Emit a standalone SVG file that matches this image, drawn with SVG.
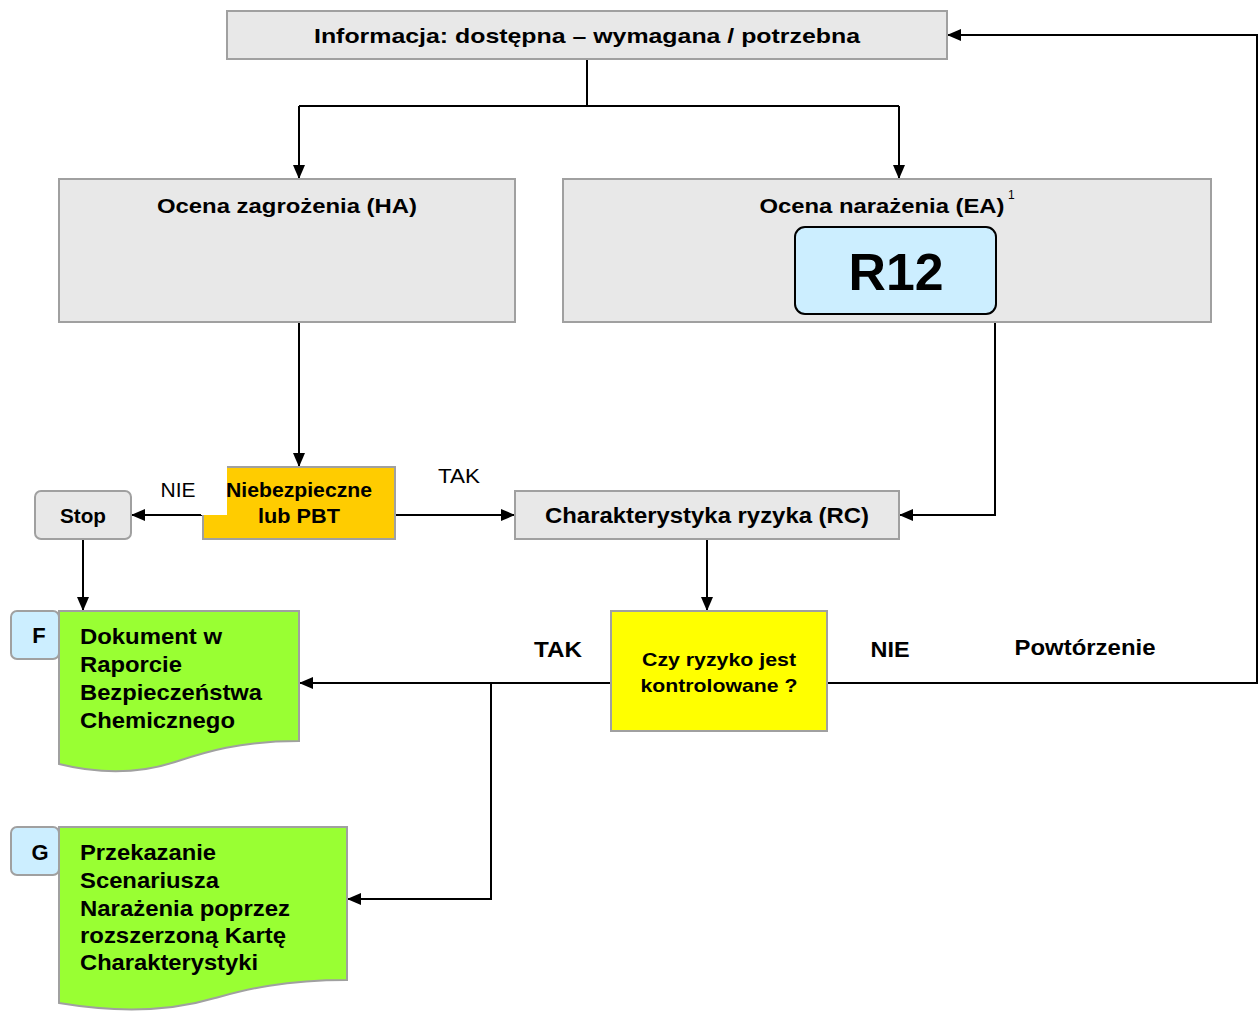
<svg xmlns="http://www.w3.org/2000/svg" width="1259" height="1011" viewBox="0 0 1259 1011">
<defs>
<marker id="ah" markerWidth="14" markerHeight="12" refX="14" refY="6" orient="auto" markerUnits="userSpaceOnUse" viewBox="0 0 14 12">
<path d="M0,0 L14,6 L0,12 Z" fill="#000"/>
</marker>
<style>
.t{font-family:"Liberation Sans",Arial,sans-serif;font-weight:bold;fill:#000}
.n{font-family:"Liberation Sans",Arial,sans-serif;fill:#000}
.grey{fill:#e8e8e8;stroke:#a0a0a0;stroke-width:2}
.c{fill:none;stroke:#000;stroke-width:2}
.lab{fill:#cceeff;stroke:#a0a0a0;stroke-width:2}
.doc{fill:#99ff33;stroke:#a0a0a0;stroke-width:2}
</style>
</defs>
<rect width="1259" height="1011" fill="#fff"/>

<g id="connectors">
<polyline class="c" points="587,59 587,106"/>
<polyline class="c" points="299,106 899,106"/>
<polyline class="c" points="299,106 299,179" marker-end="url(#ah)"/>
<polyline class="c" points="899,106 899,179" marker-end="url(#ah)"/>
<polyline class="c" points="299,322 299,467" marker-end="url(#ah)"/>
<polyline class="c" points="203,515 131,515" marker-end="url(#ah)"/>
<polyline class="c" points="395,515 515,515" marker-end="url(#ah)"/>
<polyline class="c" points="995,322 995,515 899,515" marker-end="url(#ah)"/>
<polyline class="c" points="83,539 83,611" marker-end="url(#ah)"/>
<polyline class="c" points="707,539 707,611" marker-end="url(#ah)"/>
<polyline class="c" points="611,683 299,683" marker-end="url(#ah)"/>
<polyline class="c" points="491,683 491,899 347,899" marker-end="url(#ah)"/>
<polyline class="c" points="827,683 1257,683 1257,35 947,35" marker-end="url(#ah)"/>
</g>

<g id="labels">
<text class="n" x="178" y="497" font-size="20" text-anchor="middle" textLength="35" lengthAdjust="spacingAndGlyphs">NIE</text>
<text class="n" x="459" y="483" font-size="20" text-anchor="middle" textLength="42" lengthAdjust="spacingAndGlyphs">TAK</text>
<text class="t" x="558" y="657" font-size="22" text-anchor="middle" textLength="48" lengthAdjust="spacingAndGlyphs">TAK</text>
<text class="t" x="890" y="657" font-size="22" text-anchor="middle" textLength="39" lengthAdjust="spacingAndGlyphs">NIE</text>
<text class="t" x="1085" y="655" font-size="22" text-anchor="middle" textLength="141" lengthAdjust="spacingAndGlyphs">Powtórzenie</text>
</g>

<g id="info">
<rect class="grey" x="227" y="11" width="720" height="48"/>
<text class="t" x="587" y="43" font-size="21" text-anchor="middle" textLength="546" lengthAdjust="spacingAndGlyphs">Informacja:  dostępna  –  wymagana / potrzebna</text>
</g>

<g id="ha">
<rect class="grey" x="59" y="179" width="456" height="143"/>
<text class="t" x="287" y="213" font-size="21" text-anchor="middle" textLength="260" lengthAdjust="spacingAndGlyphs">Ocena zagrożenia (HA)</text>
</g>

<g id="ea">
<rect class="grey" x="563" y="179" width="648" height="143"/>
<text class="t" x="882" y="213" font-size="21" text-anchor="middle" textLength="245" lengthAdjust="spacingAndGlyphs">Ocena narażenia (EA)</text>
<text class="n" x="1008" y="199" font-size="12">1</text>
</g>

<g id="r12">
<rect x="795" y="227" width="201" height="87" rx="10" ry="10" fill="#cceeff" stroke="#000" stroke-width="2"/>
<text class="t" x="896" y="290" font-size="52" text-anchor="middle" textLength="95" lengthAdjust="spacingAndGlyphs">R12</text>
</g>

<g id="hazard">
<rect x="203" y="467" width="192" height="72" fill="#ffcc00" stroke="#a0a0a0" stroke-width="2"/>
<rect x="201" y="465" width="26" height="50" fill="#fff"/>
<text class="t" x="299" y="497" font-size="20" text-anchor="middle" textLength="146" lengthAdjust="spacingAndGlyphs">Niebezpieczne</text>
<text class="t" x="299" y="523" font-size="20" text-anchor="middle" textLength="82" lengthAdjust="spacingAndGlyphs">lub PBT</text>
</g>

<g id="stop">
<rect class="grey" x="35" y="491" width="96" height="48" rx="6" ry="6"/>
<text class="t" x="83" y="523" font-size="21" text-anchor="middle" textLength="46" lengthAdjust="spacingAndGlyphs">Stop</text>
</g>

<g id="rc">
<rect class="grey" x="515" y="491" width="384" height="48"/>
<text class="t" x="707" y="523" font-size="22" text-anchor="middle" textLength="324" lengthAdjust="spacingAndGlyphs">Charakterystyka ryzyka (RC)</text>
</g>

<g id="decision">
<rect x="611" y="611" width="216" height="120" fill="#ffff00" stroke="#a0a0a0" stroke-width="2"/>
<text class="t" x="719" y="666" font-size="19" text-anchor="middle" textLength="154" lengthAdjust="spacingAndGlyphs">Czy ryzyko jest</text>
<text class="t" x="719" y="692" font-size="19" text-anchor="middle" textLength="157" lengthAdjust="spacingAndGlyphs">kontrolowane ?</text>
</g>

<g id="f-label">
<rect class="lab" x="11" y="611" width="48" height="48" rx="6" ry="6"/>
<text class="t" x="39" y="643" font-size="22" text-anchor="middle">F</text>
</g>

<g id="f-doc">
<path class="doc" d="M59,611 H299 V741 C240,741 205,752 175,762 C135,775 95,773 59,764 Z"/>
<text class="t" x="80" y="644" font-size="22" textLength="142" lengthAdjust="spacingAndGlyphs">Dokument w</text>
<text class="t" x="80" y="672" font-size="22" textLength="102" lengthAdjust="spacingAndGlyphs">Raporcie</text>
<text class="t" x="80" y="700" font-size="22" textLength="182" lengthAdjust="spacingAndGlyphs">Bezpieczeństwa</text>
<text class="t" x="80" y="728" font-size="22" textLength="155" lengthAdjust="spacingAndGlyphs">Chemicznego</text>
</g>

<g id="g-label">
<rect class="lab" x="11" y="827" width="48" height="48" rx="6" ry="6"/>
<text class="t" x="40" y="860" font-size="22" text-anchor="middle">G</text>
</g>

<g id="g-doc">
<path class="doc" d="M59,827 H347 V980 C280,980 245,990 215,998 C175,1010 125,1014 59,1003 Z"/>
<text class="t" x="80" y="860" font-size="22" textLength="136" lengthAdjust="spacingAndGlyphs">Przekazanie</text>
<text class="t" x="80" y="888" font-size="22" textLength="139" lengthAdjust="spacingAndGlyphs">Scenariusza</text>
<text class="t" x="80" y="916" font-size="22" textLength="210" lengthAdjust="spacingAndGlyphs">Narażenia poprzez</text>
<text class="t" x="80" y="943" font-size="22" textLength="206" lengthAdjust="spacingAndGlyphs">rozszerzoną Kartę</text>
<text class="t" x="80" y="970" font-size="22" textLength="178" lengthAdjust="spacingAndGlyphs">Charakterystyki</text>
</g>
</svg>
